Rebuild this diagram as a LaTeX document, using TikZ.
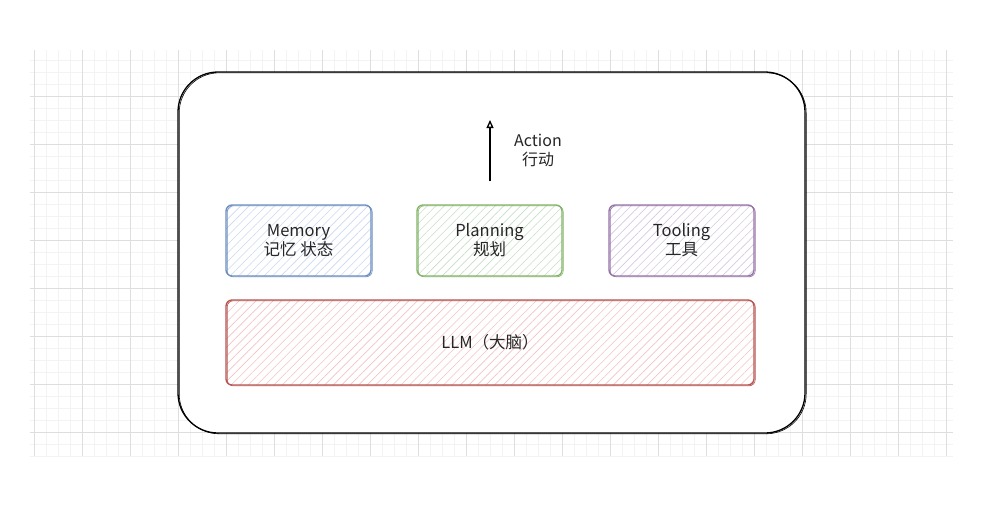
\documentclass[tikz,border=0pt]{standalone}
\usepackage{fontspec}
\setmainfont{Noto Sans CJK SC}
\usetikzlibrary{arrows.meta,patterns.meta}

\definecolor{memline}{HTML}{6C8EBF}
\definecolor{memfill}{HTML}{C9DAF2}
\definecolor{planline}{HTML}{82B366}
\definecolor{planfill}{HTML}{C6E0C4}
\definecolor{toolline}{HTML}{9673A6}
\definecolor{toolfill}{HTML}{D8C8E2}
\definecolor{llmline}{HTML}{B85450}
\definecolor{llmfill}{HTML}{F4C4C2}
\definecolor{gridminor}{HTML}{F3F3F3}
\definecolor{gridmajor}{HTML}{DEDEDE}

\begin{document}
\begin{tikzpicture}[x=1pt, y=-1pt, >={Triangle[open,width=7pt,length=8pt]},
	sketch/.style={postaction={draw=#1, line width=0.6pt, transform canvas={xshift=1.2pt, yshift=-0.8pt}}},
	module/.style={draw=#1line, line width=1.3pt, rounded corners=6pt, sketch=#1line,
		minimum width=145pt, minimum height=71pt, align=center, text=black!85,
		pattern={Lines[angle=45, distance=6pt, line width=0.6pt]}, pattern color=#1fill,
		font=\fontsize{16.5}{19}\selectfont},
	outer/.style={draw=black, line width=1.3pt, rounded corners=40pt, sketch=black,
		minimum width=627pt, minimum height=361pt},
	label/.style={align=center, text=black!85, font=\fontsize{16}{19}\selectfont}]

	\useasboundingbox (0,0) rectangle (984,506);

	% Background grid
	\foreach \x in {34,46,...,946} \draw[gridminor, line width=0.5pt] (\x,50) -- (\x,456);
	\foreach \y in {60,72,...,456} \draw[gridminor, line width=0.5pt] (30,\y) -- (953,\y);
	\foreach \x in {34,82,...,946} \draw[gridmajor, line width=0.8pt] (\x,50) -- (\x,456);
	\foreach \y in {96,144,...,432} \draw[gridmajor, line width=0.8pt] (30,\y) -- (953,\y);

	% Agent frame
	\node [outer, fill=white] (agent) at (491.5,252.5) {};

	% Modules
	\node [module=mem]  (memory)   at (298.5,240.5) {Memory\\记忆 状态};
	\node [module=plan] (planning) at (489.5,240.5) {Planning\\规划};
	\node [module=tool] (tooling)  at (681.5,240.5) {Tooling\\工具};
	\node [module=llm, minimum width=528pt, minimum height=85pt] (llm) at (490,342.5) {LLM（大脑）};

	% Action
	\coordinate (act base) at (490,181);
	\coordinate (act top)  at (490,120);
	\draw [->, line width=1.3pt] (act base) -- (act top);
	\node [label] (action) at (538,150) {Action\\行动};

\end{tikzpicture}
\end{document}
